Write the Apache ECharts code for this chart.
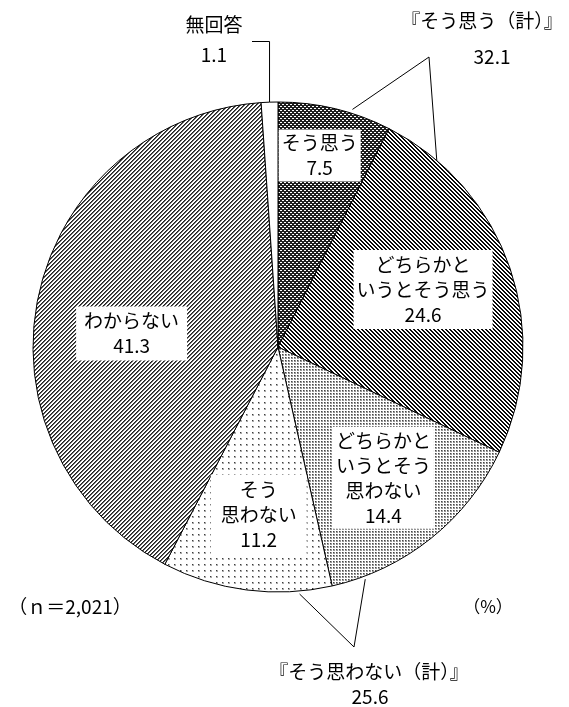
<!DOCTYPE html>
<html><head><meta charset="utf-8">
<script src="https://cdn.jsdelivr.net/npm/echarts@6/dist/echarts.min.js"></script>
<style>html,body{margin:0;padding:0;background:#fff}#c{width:569px;height:707px}</style>
</head><body><div id="c"></div>
<script>
// ---- data ----
const categories = ['そう思う', 'どちらかと\nいうとそう思う', 'どちらかと\nいうとそう\n思わない', 'そう\n思わない', 'わからない', '無回答'];
const values = [7.5, 24.6, 14.4, 11.2, 41.3, 1.1];
const groupNames = ['『そう思う（計）』', '『そう思わない（計）』'];
const groupValues = [32.1, 25.6];
const sampleNote = '（ｎ＝2,021）';
const unitNote = '（%）';

// ---- layout ----
const CX = 278, CY = 347, R = 245;
const FONT = '"Noto Sans CJK JP", "Noto Sans", sans-serif';
const labelPolar = [[-1.2, 196], [-2.8, 156], [-0.2, 168], [-0.8, 169], [-6.5, 147], [-9.8, 314]];
const labelPad = [[1, 3, 1, 3], [2, 3, 2, 3], [2, 3, 0, 3], [3, 10, 3, 10], [2, 8, 2, 8], [0, 0, 0, 0]];

function pat(w, h, fn) {
  const c = document.createElement('canvas'); c.width = w; c.height = h;
  const ctx = c.getContext('2d'); const img = ctx.createImageData(w, h);
  for (let y = 0; y < h; y++) for (let x = 0; x < w; x++) {
    const v = fn(x, y), i = (y * w + x) * 4;
    img.data[i] = img.data[i + 1] = img.data[i + 2] = v; img.data[i + 3] = 255;
  }
  ctx.putImageData(img, 0, 0);
  return { image: c, repeat: 'repeat' };
}
const mod = (a, n) => ((a % n) + n) % n;
const fills = [
  pat(4, 4, (x, y) => (mod(x + y, 4) < 2 || mod(x - y, 4) < 2) ? 30 : 255),
  pat(4, 4, (x, y) => mod(x - y, 4) < 2 ? 10 : 255),
  pat(3, 3, (x, y) => (x < 2 && y < 2) ? ((x === 0 && y === 0) ? 70 : 150) : 255),
  pat(6, 6, (x, y) => (x < 2 && y < 2) ? ((x === 0 && y === 0) ? 60 : 170) : 255),
  pat(4, 4, (x, y) => { const m = mod(x + y, 4); return m === 0 ? 30 : (m === 1 ? 100 : 255); }),
  '#ffffff'
];

const total = values.reduce((a, b) => a + b, 0);
const mids = []; { let acc = 0; values.forEach(v => { mids.push((acc + v / 2) / total * 360); acc += v; }); }
const polar = (deg, r) => { const a = deg * Math.PI / 180; return [CX + r * Math.sin(a), CY - r * Math.cos(a)]; };

const chart = echarts.init(document.getElementById('c'), null, { renderer: 'canvas' });

const txt = (text, x, y, size) => ({
  type: 'text', x: x, y: y,
  style: { text: text, fill: '#000', font: size + 'px ' + FONT, align: 'center', verticalAlign: 'middle' }
});
const line = (pts, extra) => ({
  type: 'polyline', shape: { points: pts },
  style: Object.assign({ stroke: '#000', lineWidth: 1, fill: null }, extra || {})
});

const graphics = [
  txt(groupNames[0], 482, 21, 19),
  txt(groupValues[0].toFixed(1), 492, 57, 19),
  line([polar(17.4, 249), [429, 57], polar(43.4, 233)]),
  txt(groupNames[1], 369, 672, 19),
  txt(groupValues[1].toFixed(1), 370, 697, 19),
  line([polar(175, 248), [354, 647], polar(159.4, 248)]),
  txt(sampleNote, 70, 607, 19),
  txt(unitNote, 488, 607, 17),
  line([polar(mids[5], R), [polar(mids[5], R)[0], 41.5], [252, 41.5]]),
  line([[CX - Math.sqrt(R * R - 15 * 15) + 2, 332.5], [CX - 8, 332.5]], { stroke: '#888', lineWidth: 0.6, lineDash: [2, 2] })
];

chart.setOption({
  animation: false,
  backgroundColor: '#fff',
  series: [{
    type: 'pie',
    center: [CX, CY],
    radius: R,
    startAngle: 90,
    clockwise: true,
    silent: true,
    itemStyle: { borderColor: '#000', borderWidth: 1 },
    label: {
      show: true, position: 'inside', color: '#000', fontFamily: FONT, fontSize: 19, lineHeight: 25,
      backgroundColor: '#fff',
      formatter: p => p.name + '\n' + p.value.toFixed(1)
    },
    labelLine: { show: false },
    labelLayout: function (params) {
      const i = params.dataIndex;
      const p = polar(mids[i] + labelPolar[i][0], labelPolar[i][1]);
      return { x: p[0], y: p[1] };
    },
    data: categories.map((c, i) => ({
      name: c, value: values[i],
      itemStyle: { color: fills[i] },
      label: { padding: labelPad[i], lineHeight: i === 5 ? 30 : 25 }
    }))
  }],
  graphic: graphics
});
</script></body></html>
